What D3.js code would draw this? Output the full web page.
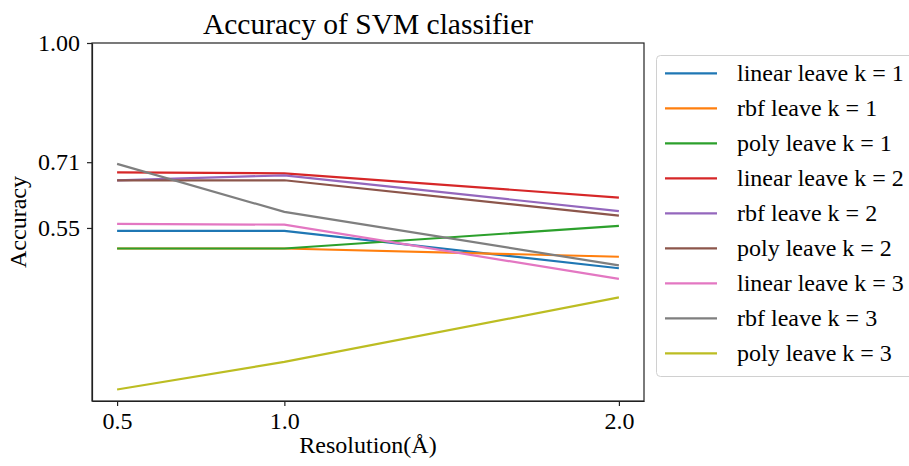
<!DOCTYPE html>
<html lang="en">
<head>
<meta charset="utf-8" />
<title>Accuracy of SVM classifier</title>
<style>
  body { margin: 0; background: #fff; }
  svg text { font-family: "Liberation Serif", "DejaVu Serif", serif; fill: #000; }
  .axis path, .axis line { stroke: #222; stroke-width: 1.2; }
  .series { fill: none; stroke-width: 2.2; }
</style>
</head>
<body>
<div id="chart"></div>
<script src="https://d3js.org/d3.v7.min.js"></script>
<script>
// data
var resolutions = [0.5, 1.0, 2.0];
var xTicks = [0.5, 1.0, 2.0];
var yTicks = [0.55, 0.71, 1.00];

var linearK1 = [0.543, 0.543, 0.452];
var rbfK1    = [0.500, 0.500, 0.480];
var polyK1   = [0.500, 0.500, 0.555];
var linearK2 = [0.685, 0.683, 0.624];
var rbfK2    = [0.666, 0.678, 0.591];
var polyK2   = [0.666, 0.666, 0.580];
var linearK3 = [0.560, 0.558, 0.426];
var rbfK3    = [0.706, 0.589, 0.459];
var polyK3   = [0.157, 0.224, 0.381];

var seriesNames = ["linear leave k = 1", "rbf leave k = 1", "poly leave k = 1",
                   "linear leave k = 2", "rbf leave k = 2", "poly leave k = 2",
                   "linear leave k = 3", "rbf leave k = 3", "poly leave k = 3"];
var seriesValues = [linearK1, rbfK1, polyK1, linearK2, rbfK2, polyK2, linearK3, rbfK3, polyK3];
var colors = ["#1f77b4", "#ff7f0e", "#2ca02c", "#d62728", "#9467bd",
              "#8c564b", "#e377c2", "#7f7f7f", "#bcbd22"];

var W = 909, H = 466;
var plot = {left: 92, right: 644, top: 43, bottom: 401};

var svg = d3.select("#chart").append("svg")
    .attr("width", W).attr("height", H);

var x = d3.scaleLinear().domain([0.425, 2.075]).range([plot.left, plot.right]);
var y = d3.scaleLinear().domain([0.129, 1.0]).range([plot.bottom, plot.top]);

// lines
var line = d3.line()
    .x(function(d, i) { return x(resolutions[i]); })
    .y(function(d) { return y(d); });

svg.append("g").selectAll("path")
   .data(seriesValues)
   .enter().append("path")
   .attr("class", "series")
   .attr("stroke", function(d, i) { return colors[i]; })
   .attr("d", line);

// axes
var xAxis = svg.append("g")
   .attr("class", "axis")
   .attr("transform", "translate(0," + plot.bottom + ")")
   .call(d3.axisBottom(x).tickValues(xTicks).tickFormat(d3.format(".1f"))
         .tickSize(5).tickSizeOuter(0).tickPadding(6));
xAxis.attr("font-size", null).attr("font-family", null);
xAxis.selectAll("text").attr("font-size", 24);

var yAxis = svg.append("g")
   .attr("class", "axis")
   .attr("transform", "translate(" + plot.left + ",0)")
   .call(d3.axisLeft(y).tickValues(yTicks).tickFormat(d3.format(".2f"))
         .tickSize(5).tickSizeOuter(0).tickPadding(7));
yAxis.attr("font-size", null).attr("font-family", null);
yAxis.selectAll("text").attr("font-size", 24);

// frame
svg.append("rect")
   .attr("x", plot.left).attr("y", plot.top)
   .attr("width", plot.right - plot.left).attr("height", plot.bottom - plot.top)
   .attr("fill", "none").attr("stroke", "#222").attr("stroke-width", 1.2);

// titles
svg.append("text")
   .attr("x", (plot.left + plot.right) / 2).attr("y", 34)
   .attr("text-anchor", "middle").attr("font-size", 29.5)
   .text("Accuracy of SVM classifier");

svg.append("text")
   .attr("x", (plot.left + plot.right) / 2).attr("y", 453)
   .attr("text-anchor", "middle").attr("font-size", 24)
   .text("Resolution(Å)");

svg.append("text")
   .attr("transform", "translate(26," + ((plot.top + plot.bottom) / 2) + ") rotate(-90)")
   .attr("text-anchor", "middle").attr("font-size", 24)
   .text("Accuracy");

// legend
var legend = svg.append("g");
legend.append("rect")
   .attr("x", 656.5).attr("y", 55.5)
   .attr("width", 270).attr("height", 321)
   .attr("rx", 4)
   .attr("fill", "#fff").attr("stroke", "#d0d0d0");

var rows = legend.selectAll(".row")
   .data(seriesNames)
   .enter().append("g")
   .attr("class", "row")
   .attr("transform", function(d, i) { return "translate(0," + (73.3 + i * 35) + ")"; });

rows.append("line")
   .attr("x1", 665).attr("x2", 717)
   .attr("stroke", function(d, i) { return colors[i]; })
   .attr("stroke-width", 2.2);

rows.append("text")
   .attr("x", 737).attr("dy", "0.33em")
   .attr("font-size", 24)
   .text(function(d) { return d; });
</script>
</body>
</html>
